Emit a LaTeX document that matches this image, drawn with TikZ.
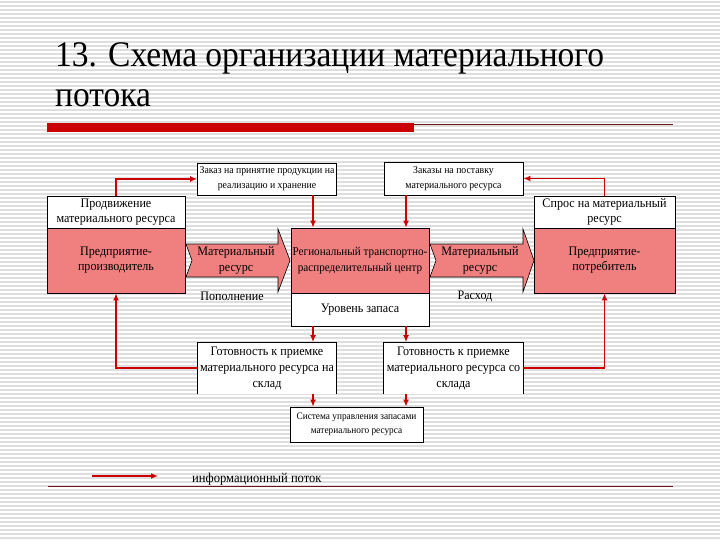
\documentclass[tikz,border=0pt]{standalone}
\usepackage{fontspec}
\setmainfont{Liberation Serif}
\newfontfamily\condfont[FakeStretch=0.93]{Liberation Serif}
\usetikzlibrary{arrows.meta,calc}
\definecolor{pinkf}{RGB}{240,128,128}
\definecolor{conn}{RGB}{204,0,0}
\definecolor{stripe}{RGB}{222,222,222}
\definecolor{barred}{RGB}{204,0,0}
\definecolor{darkline}{RGB}{110,20,20}
\begin{document}
\begin{tikzpicture}[x=1pt,y=-1pt,
 box/.style={draw=black,line width=0.8pt,fill=white,inner sep=0pt,align=center,font=\condfont\fontsize{13}{15}\selectfont},
 pinkbox/.style={box,fill=pinkf},
 smallbox/.style={box,font=\condfont\fontsize{10.5}{15}\selectfont},
 info/.style={draw=conn,line width=1.8pt,-{Latex[length=7pt,width=6pt]}},
 blockarrow/.style={draw=black,line width=0.6pt,fill=pinkf},
 lbl/.style={font=\condfont\fontsize{13}{15}\selectfont,inner sep=0pt}]
\useasboundingbox (0,0) rectangle (720,540);
\fill[white] (0,0) rectangle (720,540);
\foreach \k in {0,...,134} \draw[stripe,line width=1.1pt] (0,2+4*\k) -- (720,2+4*\k);
% title
\node[anchor=base west,inner sep=0pt,font=\condfont\fontsize{36}{40}\selectfont] (t1) at (55,67) {13. Схема организации материального};
\node[anchor=base west,inner sep=0pt,font=\condfont\fontsize{36}{40}\selectfont] (t2) at (55,107) {потока};
\fill[barred] (47,123) rectangle (414,132);
\draw[darkline,line width=1pt] (414,124.5) -- (673,124.5);
\draw[darkline,line width=1pt] (48,486) -- (673,486);
% block arrows
\draw[blockarrow] (186,244) -- (278,244) -- (278,229) -- (290,260.5) -- (278,292) -- (278,277) -- (186,277) -- (192,260.5) -- cycle;
\draw[blockarrow] (430,244) -- (523,244) -- (523,229) -- (534,260.5) -- (523,292) -- (523,277) -- (430,277) -- (436,260.5) -- cycle;
\node[lbl,align=center,font=\condfont\fontsize{13}{16}\selectfont] (mr1) at (236,260.5) {Материальный\\ресурс};
\node[lbl,align=center,font=\condfont\fontsize{13}{16}\selectfont] (mr2) at (480,260.5) {Материальный\\ресурс};
% boxes
\node[box,minimum width=138,minimum height=32] (prodTop) at (116,212) {Продвижение\\материального ресурса};
\node[pinkbox,minimum width=138,minimum height=65] (prod) at (116,260.5) {Предприятие-\\производитель};
\node[smallbox,minimum width=139,minimum height=32] (ord1) at (267,179) {Заказ на принятие продукции на\\реализацию и хранение};
\node[smallbox,minimum width=139,minimum height=33] (ord2) at (453.5,178.5) {Заказы на поставку\\материального ресурса};
\node[pinkbox,minimum width=138,minimum height=65,font=\condfont\fontsize{12}{16}\selectfont] (center) at (360,260.5) {Региональный транспортно-\\распределительный центр};
\node[box,minimum width=138,minimum height=33] (level) at (360,309.5) {Уровень запаса};
\node[box,minimum width=141,minimum height=32] (consTop) at (604.5,212) {Спрос на материальный\\ресурс};
\node[pinkbox,minimum width=141,minimum height=65] (cons) at (604.5,260.5) {Предприятие-\\потребитель};
\node[box,draw=none,minimum width=138,minimum height=51,font=\condfont\fontsize{13}{16}\selectfont] (ready1) at (267,368) {Готовность к приемке\\материального ресурса на\\склад};
\node[box,draw=none,minimum width=139,minimum height=51,font=\condfont\fontsize{13}{16}\selectfont] (ready2) at (453.5,368) {Готовность к приемке\\материального ресурса со\\склада};
\draw[line width=0.8pt] (ready1.south west) -- (ready1.north west) -- (ready1.north east) -- (ready1.south east);
\draw[line width=0.8pt] (ready2.south west) -- (ready2.north west) -- (ready2.north east) -- (ready2.south east);
\node[box,minimum width=133,minimum height=35,font=\condfont\fontsize{10}{14}\selectfont] (sys) at (356.5,424.5) {Система управления запасами\\материального ресурса};
\node[lbl] (pop) at (232,296) {Пополнение};
\node[lbl] (ras) at (475,296) {Расход};
% connectors
\coordinate (xa) at (313,0);
\coordinate (xb) at (406,0);
\draw[info] (prodTop.north) |- (ord1.west);
\draw[info] (consTop.north) |- (ord2.east);
\draw[info] (ord1.south -| xa) -- (center.north -| xa);
\draw[info] (ord2.south -| xb) -- (center.north -| xb);
\draw[info] (level.south -| xa) -- (ready1.north -| xa);
\draw[info] (level.south -| xb) -- (ready2.north -| xb);
\draw[info] (ready1.south -| xa) -- (sys.north -| xa);
\draw[info] (ready2.south -| xb) -- (sys.north -| xb);
\draw[info] (ready1.west) -| (prod.south);
\draw[info] (ready2.east) -| (cons.south);
% legend
\coordinate (l1) at (92,476);
\coordinate (l2) at (158,476);
\draw[info] (l1) -- (l2);
\node[anchor=base west,inner sep=0pt,font=\condfont\fontsize{13.5}{15}\selectfont] (leg) at (192,482) {информационный поток};
\end{tikzpicture}
\end{document}
